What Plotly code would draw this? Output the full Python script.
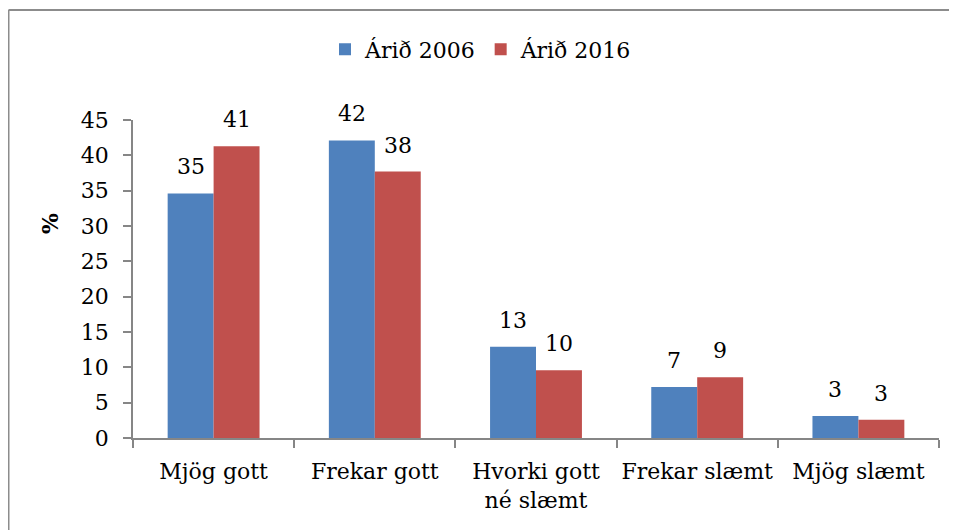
import plotly.graph_objects as go

categories = ["Mjög gott", "Frekar gott", "Hvorki gott<br>né slæmt", "Frekar slæmt", "Mjög slæmt"]
series_names = ["Árið 2006", "Árið 2016"]
values_2006 = [34.6, 42.1, 12.9, 7.2, 3.1]
values_2016 = [41.3, 37.7, 9.6, 8.6, 2.6]
y_ticks = [0, 5, 10, 15, 20, 25, 30, 35, 40, 45]

# the page places the figure 8px from the window's top-left corner
OFF = 8
W, H = 957 - OFF, 530 - OFF
L, R, T, B = 133 - OFF, 18, 120 - OFF, 92
PW, PH = W - L - R, H - T - B

FONT = "DejaVu Serif"
FS = 22
BLUE = "#4F81BD"
RED = "#C0504D"
AX = "#868686"

fig = go.Figure()
fig.add_trace(go.Bar(x=categories, y=values_2006, name=series_names[0],
                     marker=dict(color=BLUE, line=dict(width=0))))
fig.add_trace(go.Bar(x=categories, y=values_2016, name=series_names[1],
                     marker=dict(color=RED, line=dict(width=0))))

annotations = []
for vals, shift in ((values_2006, -23), (values_2016, 23)):
    for c, v in zip(categories, vals):
        annotations.append(dict(x=c, y=v, xref="x", yref="y", text=f"{int(v + 0.5):d}",
                                showarrow=False, xanchor="center", yanchor="bottom",
                                yshift=12, xshift=shift,
                                font=dict(family=FONT, size=FS, color="black")))

def px_to_paper_x(px):
    return (px - OFF - L) / PW

def px_to_paper_y(py):
    return (H - B - (py - OFF)) / PH

annotations.append(dict(x=px_to_paper_x(50), y=px_to_paper_y(224), xref="paper", yref="paper",
                        xanchor="center", yanchor="middle",
                        text="<b>%</b>", showarrow=False, textangle=-90,
                        font=dict(family=FONT, size=FS, color="black")))

shapes = [
    dict(type="line", xref="paper", yref="paper",
         x0=px_to_paper_x(8.5), x1=px_to_paper_x(8.5), y0=px_to_paper_y(10), y1=px_to_paper_y(540),
         line=dict(color="#8C8C8C", width=2)),
    dict(type="line", xref="paper", yref="paper",
         x0=px_to_paper_x(8.5), x1=px_to_paper_x(970), y0=px_to_paper_y(10), y1=px_to_paper_y(10),
         line=dict(color="#8C8C8C", width=2)),
]

fig.update_layout(
    width=W, height=H,
    margin=dict(l=L, r=R, t=T, b=B),
    paper_bgcolor="white", plot_bgcolor="white",
    barmode="group", bargap=0.43, bargroupgap=0,
    font=dict(family=FONT, size=FS, color="black"),
    showlegend=True,
    legend=dict(orientation="h", x=px_to_paper_x(481), xanchor="center",
                y=px_to_paper_y(49.5), yanchor="middle",
                font=dict(family=FONT, size=FS), itemwidth=30, tracegroupgap=0,
                bgcolor="rgba(0,0,0,0)"),
    annotations=annotations,
    shapes=shapes,
    xaxis=dict(showline=True, linecolor=AX, linewidth=1.5, ticks="outside",
               tickson="boundaries", ticklen=8, tickcolor=AX, tickwidth=1.5,
               showgrid=False, ticklabelstandoff=13, tickfont=dict(family=FONT, size=FS)),
    yaxis=dict(range=[0, 45], tickvals=y_ticks, showline=True, linecolor=AX, linewidth=1.5,
               ticks="outside", ticklen=8, tickcolor=AX, tickwidth=1.5, showgrid=False,
               zeroline=False, ticklabelstandoff=10, tickfont=dict(family=FONT, size=FS)),
)

fig.write_html("out.html")
